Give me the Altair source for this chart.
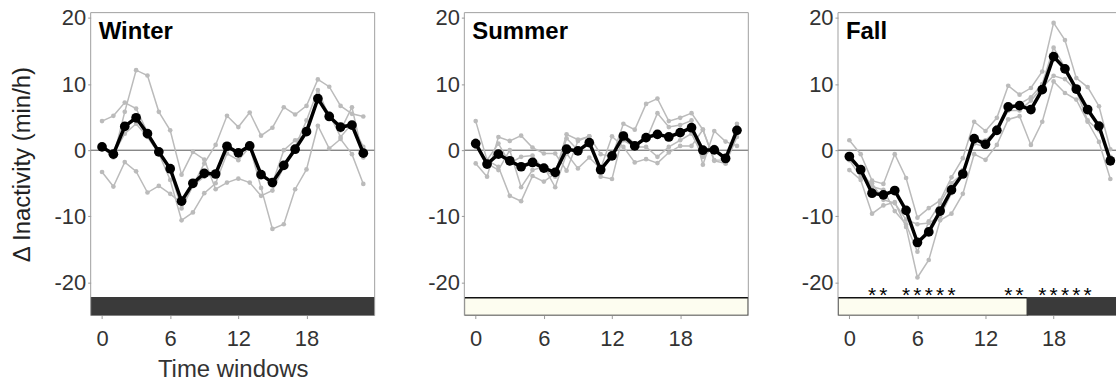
import altair as alt
import pandas as pd

# ---------------- data ----------------
time_idx = list(range(24))
x_ticks = [0, 6, 12, 18]
y_ticks = [-20, -10, 0, 10, 20]

winter_mean = [0.5, -0.6, 3.6, 4.9, 2.5, -0.25, -2.8, -7.7, -5.0, -3.5, -3.6, 0.6,
               -0.4, 0.65, -3.7, -4.9, -2.3, 0.15, 2.8, 7.8, 5.1, 3.5, 3.8, -0.45]
winter_a = [4.4, 5.2, 7.2, 6.3, 2.7, 0.0, -3.2, -8.8, -5.4, -2.0, 0.8, 5.2,
            3.5, 5.7, 2.2, 3.4, 6.5, 5.4, 6.7, 10.7, 9.6, 6.7, 5.5, 5.1]
winter_b = [0.5, -1.1, 5.8, 12.1, 11.3, 5.8, 3.0, -3.7, -0.25, -1.4, -5.9, -4.9,
            -4.3, -4.9, -6.9, -6.1, -2.5, 0.5, 4.5, 9.1, 5.0, 3.0, 6.5, -1.1]
winter_c = [-3.3, -5.5, -1.8, -3.2, -6.4, -5.4, -6.6, -8.0, -5.4, -4.0, -3.6, 0.5,
            -0.3, 0.6, -5.7, -11.9, -11.2, -5.9, -2.9, 3.7, 0.25, 1.7, -0.6, -5.1]
winter_d = [0.5, -0.6, 2.5, 4.0, 2.0, -0.5, -4.5, -10.6, -9.4, -6.5, -5.0, -0.5,
            -1.5, 0.5, -3.5, -5.0, 0.0, 1.5, 2.5, 8.0, 5.5, 2.0, 4.0, 0.5]

summer_mean = [1.0, -2.1, -0.6, -1.6, -2.5, -1.85, -2.7, -3.35, 0.15, -0.1, 1.15, -2.95,
               -0.85, 2.15, 0.65, 1.9, 2.4, 2.0, 2.65, 3.4, 0.0, 0.05, -1.25, 3.0]
summer_a = [4.4, -1.5, -2.5, -6.9, -7.7, -3.9, -4.75, -3.5, 2.4, 1.6, 2.1, -0.6,
            -1.0, 4.0, 3.1, 7.0, 7.8, 4.4, 4.9, 5.6, 3.1, -1.6, -2.0, 4.0]
summer_b = [-2.0, -4.0, 2.0, 1.4, 2.2, 0.4, -0.5, -0.5, -3.1, 1.4, 2.1, -4.0,
            -4.35, 2.5, 1.0, 1.5, 5.6, 3.5, 3.8, 4.5, -2.2, 2.9, 1.3, 0.65]
summer_c = [1.5, -2.0, -3.0, 0.0, -5.6, -3.0, -2.5, -5.6, -0.5, -2.75, -1.1, -2.8,
            2.1, 0.5, -1.85, -1.35, -1.95, -0.35, 0.65, 0.65, 3.1, -1.5, -1.5, 3.5]
summer_d = [0.5, -1.5, 1.0, -2.0, -1.0, -0.8, -3.0, -4.0, 1.8, 0.0, 1.5, -3.5,
            -0.5, 1.5, 0.5, 0.5, -1.0, 0.5, 1.5, 2.5, -1.0, 0.5, -2.0, 2.0]

fall_mean = [-0.95, -2.95, -6.5, -6.75, -6.1, -9.1, -13.95, -12.35, -9.2, -6.0, -3.6, 1.75,
             0.9, 3.0, 6.55, 6.75, 6.15, 9.15, 14.15, 12.3, 9.25, 6.15, 3.65, -1.6]
fall_a = [1.5, -0.6, -4.6, -5.1, -0.6, -4.2, -10.2, -8.75, -7.6, -4.1, -1.2, 4.3,
          2.9, 4.9, 9.75, 8.4, 9.4, 11.9, 19.25, 16.65, 10.9, 9.55, 6.65, 0.15]
fall_b = [-3.0, -4.5, -9.6, -8.35, -7.85, -11.6, -19.25, -16.6, -10.6, -9.6, -6.6, -0.6,
          -1.45, 0.8, 4.65, 5.15, 0.8, 4.3, 10.4, 8.65, 7.65, 4.3, 1.25, -4.35]
fall_c = [-1.0, -3.0, -5.5, -6.0, -9.2, -11.2, -15.35, -10.75, -8.0, -5.0, -3.5, 1.5,
          1.5, 3.0, 6.0, 7.0, 8.0, 10.0, 15.5, 12.5, 9.5, 6.5, 3.5, -1.5]
fall_d = [-1.5, -4.0, -5.0, -7.5, -8.0, -10.5, -11.2, -11.0, -10.0, -6.5, -3.0, 1.0,
          0.5, 3.5, 6.0, 6.0, 7.5, 9.5, 11.25, 10.75, 9.0, 4.5, 3.0, -1.0]

# light/dark phase bars: (start, end, kind)
winter_bars = [(-1, 24, "dark")]
summer_bars = [(-1, 24, "light")]
fall_bars = [(-1, 15.7, "light"), (15.7, 24, "dark")]

fall_stars = [2, 3, 5, 6, 7, 8, 9, 14, 15, 17, 18, 19, 20, 21]

BAR_TOP = -22.3
STAR_Y = -22.9
Y_DOMAIN = [-25, 20.8]

FONT = "Liberation Sans"
H = 304
MINUS_EXPR = "datum.value < 0 ? '-' + abs(datum.value) : '' + datum.value"


def panel(name, mean, inds, bars, stars, width, xmax, y_title, x_title):
    xs = alt.Scale(domain=[-1, xmax], nice=False, zero=False)
    ys = alt.Scale(domain=Y_DOMAIN, nice=False, zero=False)

    rows = []
    for k, s in enumerate(inds):
        for t, v in zip(time_idx, s):
            rows.append({"series": f"s{k}", "t": t, "v": v})
    ind_df = pd.DataFrame(rows)
    mean_df = pd.DataFrame({"t": time_idx, "v": mean})
    bar_df = pd.DataFrame(bars, columns=["t", "t2", "kind"])
    bar_df["v"] = BAR_TOP
    bar_df["v2"] = Y_DOMAIN[0]
    zero_df = pd.DataFrame({"v": [0.0]})
    one = pd.DataFrame({"a": [0]})

    x_axis = alt.Axis(values=x_ticks, title=x_title, labelFontSize=22, titleFontSize=24,
                      labelFont=FONT, titleFont=FONT, labelColor="#333333",
                      titleColor="#333333", titleFontWeight="normal",
                      tickSize=3, tickColor="#999999", domain=False, grid=False,
                      labelPadding=10, titlePadding=8)
    y_axis = alt.Axis(values=y_ticks, title=y_title, labelFontSize=22, titleFontSize=24,
                      labelFont=FONT, titleFont=FONT, labelColor="#333333",
                      titleColor="#222222", titleFontWeight="normal",
                      tickSize=3, tickColor="#999999", domain=False, grid=False,
                      labelPadding=2, titlePadding=18, labelExpr=MINUS_EXPR,
                      minExtent=38, maxExtent=38)

    X = lambda f: alt.X(f, scale=xs, axis=x_axis)
    Y = lambda f: alt.Y(f, scale=ys, axis=y_axis)

    zero = alt.Chart(zero_df).mark_rule(color="#555555", strokeWidth=1).encode(y=Y("v:Q"))

    gray_line = alt.Chart(ind_df).mark_line(color="#bbbbbb", strokeWidth=1.5).encode(
        x=X("t:Q"), y=Y("v:Q"), detail="series:N")
    gray_pts = alt.Chart(ind_df).mark_circle(color="#bbbbbb", size=22, opacity=1).encode(
        x=X("t:Q"), y=Y("v:Q"))
    black_line = alt.Chart(mean_df).mark_line(color="black", strokeWidth=3.5).encode(
        x=X("t:Q"), y=Y("v:Q"))
    black_pts = alt.Chart(mean_df).mark_circle(color="black", size=95, opacity=1).encode(
        x=X("t:Q"), y=Y("v:Q"))
    bar = alt.Chart(bar_df).mark_rect(clip=True, strokeWidth=1.5).encode(
        x=X("t:Q"), x2="t2:Q",
        y=Y("v:Q"), y2="v2:Q",
        color=alt.Color("kind:N", scale=alt.Scale(domain=["light", "dark"],
                                                 range=["#fdfdf0", "#3a3a3a"]), legend=None),
        stroke=alt.Stroke("kind:N", scale=alt.Scale(domain=["light", "dark"],
                                                   range=["#111111", "#3a3a3a"]), legend=None))

    top_b = alt.Chart(one).mark_rule(color="#a0a0a0", strokeWidth=1).encode(
        x=alt.value(0), x2=alt.value(width), y=alt.value(0))
    left_b = alt.Chart(one).mark_rule(color="#a0a0a0", strokeWidth=1).encode(
        x=alt.value(0), y=alt.value(0), y2=alt.value(H))
    borders = [top_b, left_b]
    if xmax >= 24:
        right_b = alt.Chart(one).mark_rule(color="#a0a0a0", strokeWidth=1).encode(
            x=alt.value(width), y=alt.value(0), y2=alt.value(H))
        borders.append(right_b)

    label = alt.Chart(one).mark_text(align="left", baseline="alphabetic", fontSize=24,
                                     fontWeight="bold", font=FONT, color="black").encode(
        x=alt.value(8), y=alt.value(26), text=alt.value(name))

    layers = [zero, gray_line, gray_pts, black_line, black_pts, bar]
    if stars:
        star_df = pd.DataFrame({"t": stars, "v": [STAR_Y] * len(stars)})
        star = alt.Chart(star_df).mark_text(text="*", fontSize=21, font=FONT,
                                            color="black", baseline="alphabetic").encode(
            x=X("t:Q"), y=Y("v:Q"))
        layers.append(star)
    layers += borders
    layers.append(label)
    return alt.layer(*layers).properties(width=width, height=H)


winter = panel("Winter", winter_mean, [winter_a, winter_b, winter_c, winter_d],
               winter_bars, None, 285, 24, "Δ Inactivity (min/h)", "Time windows")
summer = panel("Summer", summer_mean, [summer_a, summer_b, summer_c, summer_d],
               summer_bars, None, 285, 24, None, None)
fall = panel("Fall", fall_mean, [fall_a, fall_b, fall_c, fall_d],
             fall_bars, fall_stars, 279, 23.5, None, None)

chart = alt.hconcat(winter, summer, fall, spacing=90, bounds="flush").resolve_scale(
    x="independent", y="independent").properties(
    padding={"left": 11, "top": 6, "right": 0, "bottom": 0}
).configure_view(stroke=None)

chart.save("out.html", embed_options={"renderer": "svg", "actions": False})
